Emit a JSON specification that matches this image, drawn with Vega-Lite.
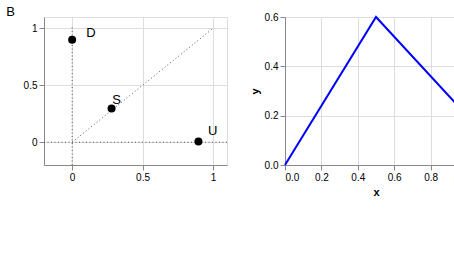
{
"$schema": "https://vega.github.io/schema/vega-lite/v6.json",
"datasets": {
  "B_ref": [{"x":-0.2,"y":0,"x2":1.1,"y2":0},{"x":0,"y":-0.2,"x2":0,"y2":1.02},{"x":0,"y":0,"x2":1.0,"y2":1.0}],
  "B_fp": [{"p":"D","x":0,"y":0.9},{"p":"S","x":0.28,"y":0.297},{"p":"U","x":0.897,"y":0.006}],
  "B_text": [
    {"role":"pl","t":"B","x":-0.437,"y":1.141},
    {"role":"fp","t":"D","x":0.134,"y":0.96},{"role":"fp","t":"S","x":0.315,"y":0.373},{"role":"fp","t":"U","x":0.998,"y":0.101}
  ]
},
"hconcat": [
  {
    "width": 183, "height": 148,
    "encoding": {
      "x": {"field": "x", "type": "quantitative", "scale": {"domain": [-0.2, 1.1], "nice": false, "zero": false}, "axis": {"values": [0, 0.5, 1], "format": "~g", "title": null}},
      "y": {"field": "y", "type": "quantitative", "scale": {"domain": [-0.2, 1.1], "nice": false, "zero": false}, "axis": {"values": [0, 0.5, 1], "format": "~g", "title": null}}
    },
    "layer": [
      {"data": {"name": "B_ref"}, "mark": {"type": "rule", "color": "#555", "strokeDash": [1, 2.5], "strokeWidth": 1}, "encoding": {"x2": {"field": "x2"}, "y2": {"field": "y2"}}},
      {"data": {"name": "B_fp"}, "mark": {"type": "circle", "color": "#000", "size": 64, "opacity": 1}},
      {"data": {"name": "B_text"}, "mark": {"type": "text", "align": "center", "baseline": "middle", "fontSize": 13}, "encoding": {"text": {"field": "t"}}}
    ]
  },
  {
    "width": 182, "height": 148,
    "data": {"values": [{"x":0,"y":0},{"x":0.5,"y":0.6},{"x":1,"y":0.2}]},
    "mark": {"type": "line", "color": "blue"},
    "encoding": {
      "x": {"field": "x", "type": "quantitative"},
      "y": {"field": "y", "type": "quantitative"}
    }
  }
]
}
